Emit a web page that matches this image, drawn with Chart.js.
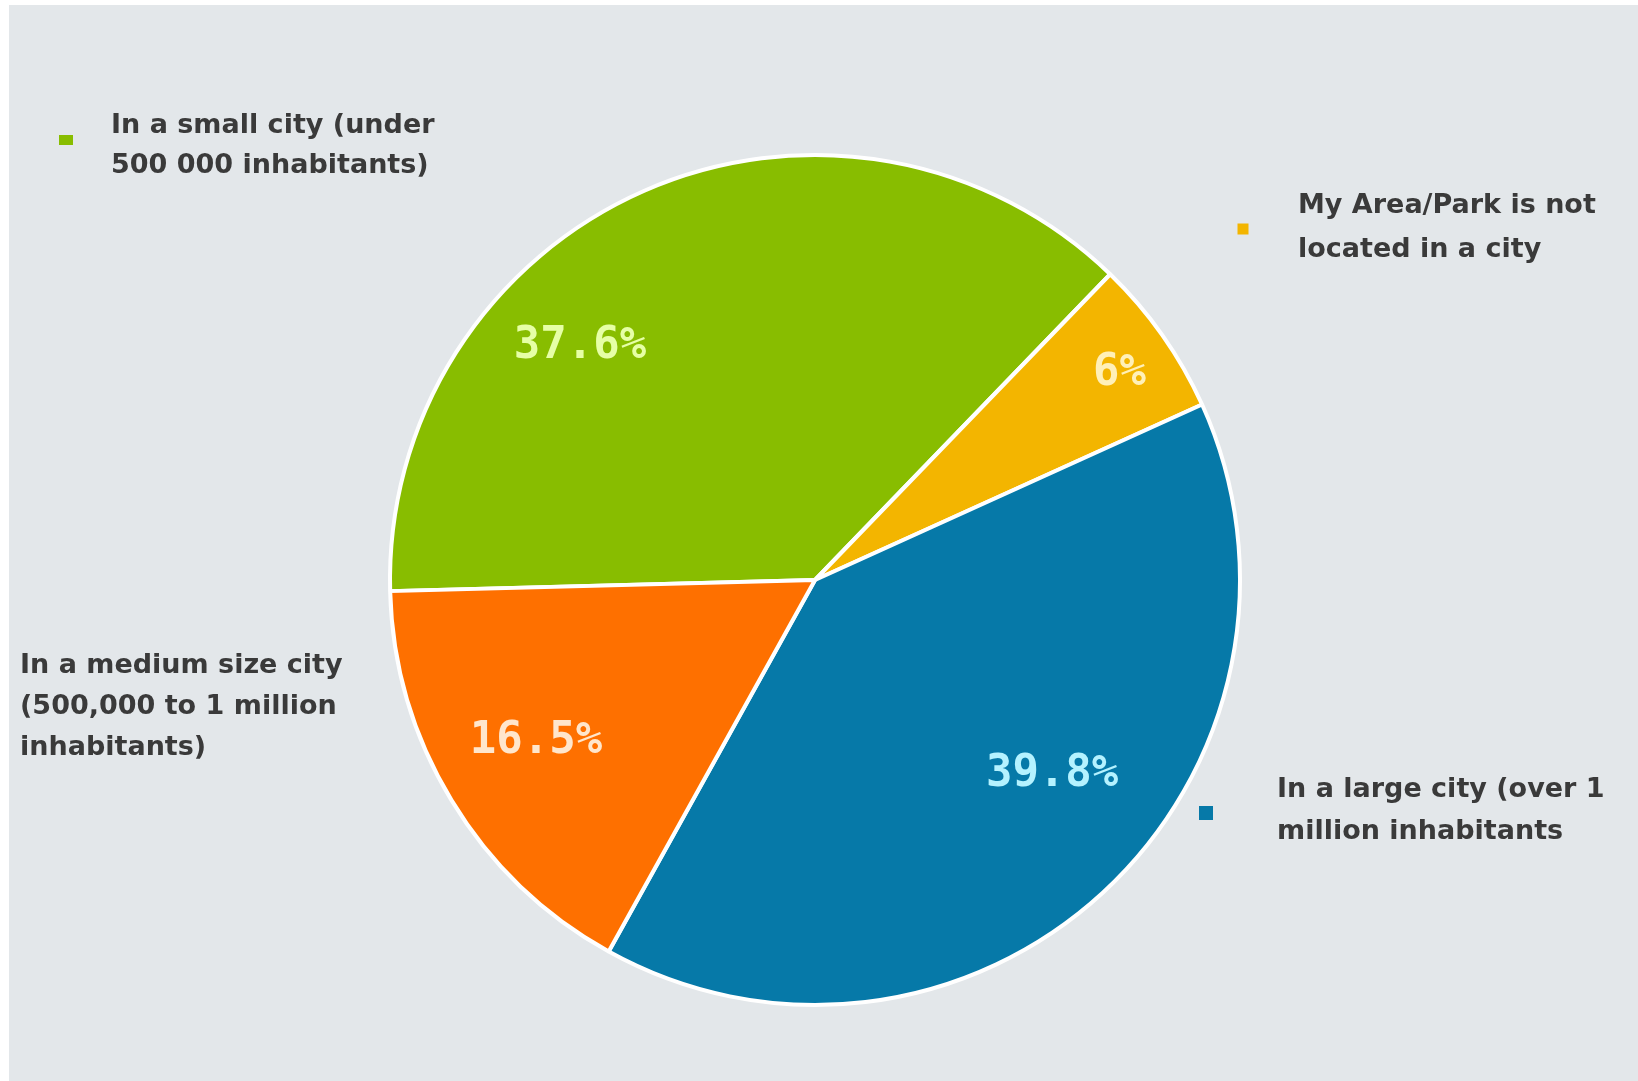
<!DOCTYPE html>
<html>
<head>
<meta charset="utf-8">
<script src="https://cdn.jsdelivr.net/npm/chart.js@4/dist/chart.umd.min.js"></script>
<style>
  html, body { margin: 0; padding: 0; background: #ffffff; width: 1638px; height: 1081px; overflow: hidden; }
  #bg { position: absolute; left: 9px; top: 5px; right: 0; bottom: 0; background: #e3e7ea; }
  #c { position: absolute; left: 0; top: 0; }
</style>
</head>
<body>
<div id="bg"></div>
<canvas id="c" width="1638" height="1081"></canvas>
<script>
// ---- data ----
const categories = [
  'In a small city (under 500 000 inhabitants)',
  'My Area/Park is not located in a city',
  'In a large city (over 1 million inhabitants',
  'In a medium size city (500,000 to 1 million inhabitants)'
];
const values = [37.6, 6, 39.8, 16.5];
const valueLabels = ['37.6%', '6%', '39.8%', '16.5%'];
const calloutLines = [
  ['In a small city (under', '500 000 inhabitants)'],
  ['My Area/Park is not', 'located in a city'],
  ['In a large city (over 1', 'million inhabitants'],
  ['In a medium size city', '(500,000 to 1 million', 'inhabitants)']
];

// ---- styles / layout ----
const sliceColors = ['#88bd00', '#f3b500', '#0679a8', '#fe7000'];
const valueLabelColors = ['#e6ffa6', '#fff0b8', '#b4f2ff', '#ffe6cc'];
// percentage label placement relative to the pie (angle deg from +x, fraction of radius)
const valueLabelPlace = [
  { angle: -135.2, r: 0.779 },
  { angle: -34.2, r: 0.866 },
  { angle: 39.4, r: 0.722 },
  { angle: 150.0, r: 0.758 }
];
// callout boxes (page pixels)
const calloutPlace = [
  { x: 111, y: 126, lh: 40, marker: { x: 66, y: 140, w: 14, h: 10 } },
  { x: 1298, y: 206, lh: 44, marker: { x: 1243, y: 229, w: 11, h: 11 } },
  { x: 1277, y: 790, lh: 42, marker: { x: 1206, y: 813, w: 14, h: 14 } },
  { x: 20, y: 666, lh: 41, marker: null }
];

const labelsPlugin = {
  id: 'labelsPlugin',
  afterDatasetsDraw(chart) {
    const ctx = chart.ctx;
    const meta = chart.getDatasetMeta(0);
    ctx.save();
    ctx.textAlign = 'center';
    ctx.textBaseline = 'middle';
    ctx.font = 'bold 44px "DejaVu Sans Mono"';
    meta.data.forEach((arc, i) => {
      const p = valueLabelPlace[i];
      const a = p.angle * Math.PI / 180;
      const x = arc.x + Math.cos(a) * arc.outerRadius * p.r;
      const y = arc.y + Math.sin(a) * arc.outerRadius * p.r;
      ctx.fillStyle = valueLabelColors[i];
      ctx.fillText(valueLabels[i], x, y);
    });
    ctx.textAlign = 'left';
    ctx.font = 'bold 27px "DejaVu Sans"';
    calloutLines.forEach((lines, i) => {
      const c = calloutPlace[i];
      if (c.marker) {
        ctx.fillStyle = sliceColors[i];
        ctx.fillRect(c.marker.x - c.marker.w / 2, c.marker.y - c.marker.h / 2, c.marker.w, c.marker.h);
      }
      ctx.fillStyle = '#3a3a3a';
      lines.forEach((t, k) => ctx.fillText(t, c.x, c.y + k * c.lh));
    });
    ctx.restore();
  }
};

new Chart(document.getElementById('c'), {
  type: 'pie',
  data: {
    labels: categories,
    datasets: [{
      data: values,
      backgroundColor: sliceColors,
      borderColor: '#ffffff',
      borderWidth: 4
    }]
  },
  options: {
    responsive: false,
    animation: false,
    rotation: 268.5,
    layout: { padding: { top: 153, bottom: 74, left: 388, right: 396 } },
    plugins: {
      legend: { display: false },
      tooltip: { enabled: false },
      title: { display: false }
    }
  },
  plugins: [labelsPlugin]
});
</script>
</body>
</html>
